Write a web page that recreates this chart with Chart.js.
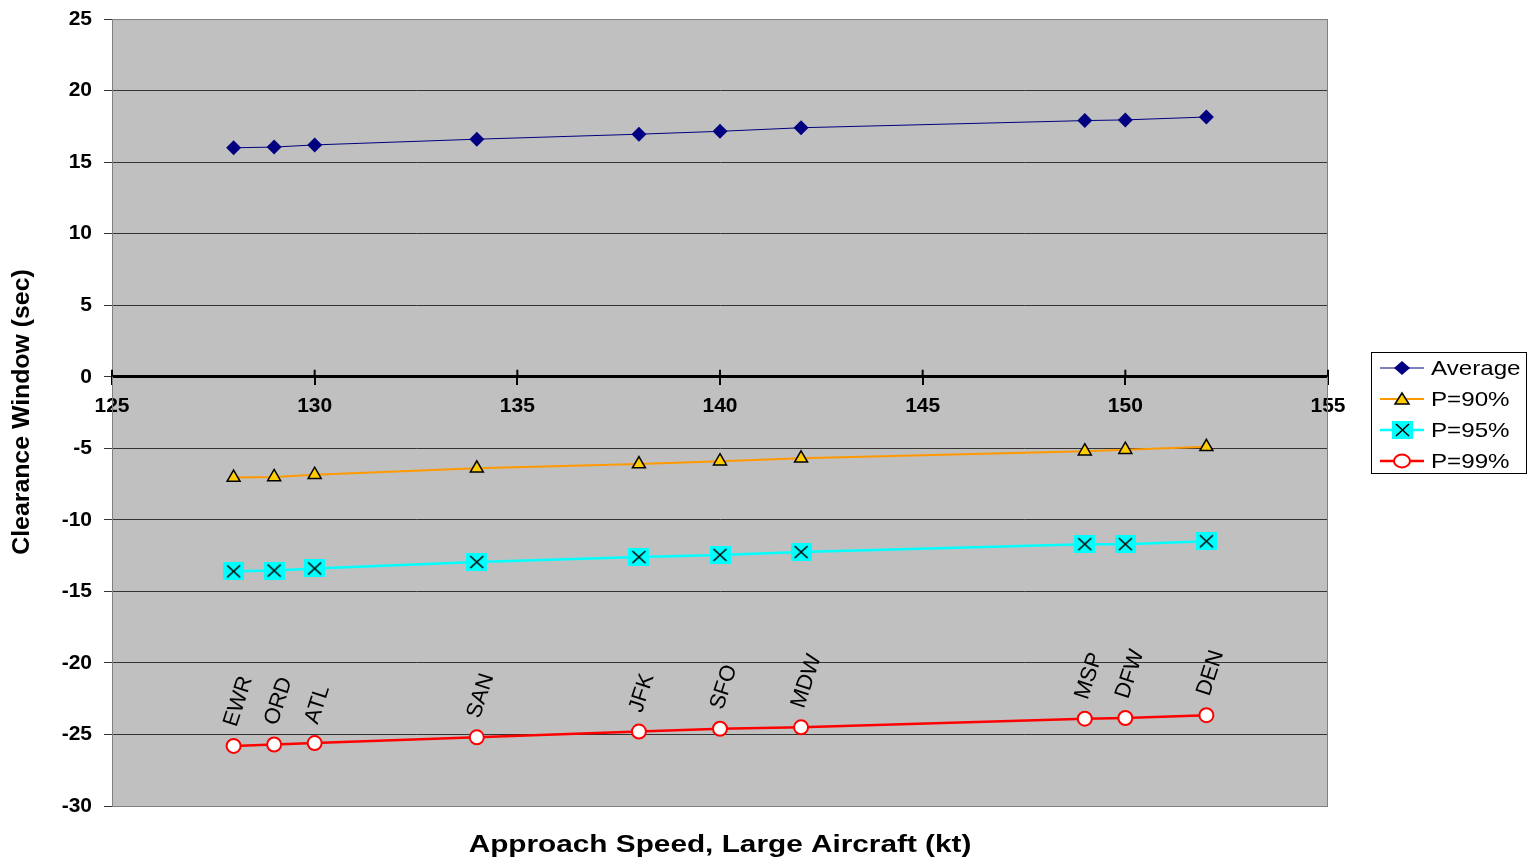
<!DOCTYPE html>
<html>
<head>
<meta charset="utf-8">
<script src="https://cdn.jsdelivr.net/npm/chart.js@4/dist/chart.umd.min.js"></script>
<style>
  body { margin: 0; background: #fff; }
  #wrap { width: 1528px; height: 861px; }
</style>
</head>
<body>
<div id="wrap"><canvas id="c" width="1528" height="861"></canvas></div>
<script>
// approach speeds (kt) and airports
const speeds = [128, 129, 130, 134, 138, 140, 142, 149, 150, 152]
const airports = ['EWR', 'ORD', 'ATL', 'SAN', 'JFK', 'SFO', 'MDW', 'MSP', 'DFW', 'DEN']
// clearance window (sec)
const average = [16.0, 16.05, 16.2, 16.6, 16.95, 17.15, 17.4, 17.9, 17.95, 18.15]
const p90 = [-7.05, -7.0, -6.85, -6.4, -6.1, -5.9, -5.7, -5.2, -5.1, -4.9]
const p95 = [-13.6, -13.55, -13.4, -12.95, -12.6, -12.45, -12.25, -11.7, -11.7, -11.5]
const p99 = [-25.8, -25.7, -25.6, -25.2, -24.8, -24.6, -24.5, -23.9, -23.85, -23.65]
const xTicks = [125, 130, 135, 140, 145, 150, 155]
const yTicks = [-30, -25, -20, -15, -10, -5, 0, 5, 10, 15, 20, 25]

const FONT = '"Liberation Sans", Arial, sans-serif'

function pts(arr) {
	return arr.map((v, i) => ({x: speeds[i], y: v}))
}

// cyan square with a black X, used for P=95%
function boxCross() {
	const cv = document.createElement('canvas')
	cv.width = 21
	cv.height = 18
	const g = cv.getContext('2d')
	g.fillStyle = '#00FFFF'
	g.fillRect(0, 0, 21, 18)
	g.strokeStyle = '#000'
	g.lineWidth = 1.6
	g.beginPath()
	g.moveTo(4, 3); g.lineTo(17, 15)
	g.moveTo(17, 3); g.lineTo(4, 15)
	g.stroke()
	return cv
}
const crossImg = boxCross()

function marker(ctx, kind, x, y) {
	ctx.save()
	if (kind === 'diamond') {
		ctx.fillStyle = '#000080'
		ctx.beginPath()
		ctx.moveTo(x, y - 7); ctx.lineTo(x + 8, y); ctx.lineTo(x, y + 7); ctx.lineTo(x - 8, y)
		ctx.closePath(); ctx.fill()
	} else if (kind === 'triangle') {
		ctx.fillStyle = '#FFCC00'
		ctx.strokeStyle = '#000'
		ctx.lineWidth = 1.5
		ctx.beginPath()
		ctx.moveTo(x, y - 6); ctx.lineTo(x + 7, y + 5); ctx.lineTo(x - 7, y + 5)
		ctx.closePath(); ctx.fill(); ctx.stroke()
	} else if (kind === 'cross') {
		ctx.drawImage(crossImg, x - 10, y - 9)
	} else {
		ctx.fillStyle = '#fff'
		ctx.strokeStyle = '#FF0000'
		ctx.lineWidth = 2
		ctx.beginPath()
		ctx.ellipse(x, y, 8, 6.5, 0, 0, Math.PI * 2)
		ctx.fill(); ctx.stroke()
	}
	ctx.restore()
}

const legendItems = [
	{label: 'Average', color: '#000080', width: 1, kind: 'diamond'},
	{label: 'P=90%', color: '#FF9900', width: 2, kind: 'triangle'},
	{label: 'P=95%', color: '#00FFFF', width: 2.5, kind: 'cross'},
	{label: 'P=99%', color: '#FF0000', width: 2.5, kind: 'circle'}
]

const decor = {
	id: 'decor',
	beforeDraw(chart) {
		const {ctx, chartArea: a} = chart
		ctx.save()
		ctx.fillStyle = '#C0C0C0'
		ctx.fillRect(a.left, a.top, a.right - a.left, a.bottom - a.top)
		ctx.restore()
	},
	beforeDatasetsDraw(chart) {
		const {ctx, chartArea: a} = chart
		ctx.save()
		ctx.strokeStyle = '#808080'
		ctx.lineWidth = 1
		ctx.strokeRect(a.left + 0.5, a.top + 0.5, a.right - a.left - 1, a.bottom - a.top)
		// tick marks above the x axis line too
		const xs = chart.scales.x, ys = chart.scales.y
		const y0 = ys.getPixelForValue(0)
		ctx.strokeStyle = '#000'
		ctx.lineWidth = 2
		xTicks.forEach(t => {
			const px = xs.getPixelForValue(t)
			ctx.beginPath(); ctx.moveTo(px, y0 - 7); ctx.lineTo(px, y0); ctx.stroke()
		})
		ctx.restore()
	},
	afterDraw(chart) {
		const {ctx, chartArea: a} = chart
		ctx.save()
		// airport labels
		const meta = chart.getDatasetMeta(3)
		ctx.fillStyle = '#000'
		ctx.font = '22px ' + FONT
		ctx.textAlign = 'left'
		ctx.textBaseline = 'middle'
		meta.data.forEach((p, i) => {
			ctx.save()
			ctx.translate(p.x - 3, p.y - 20)
			ctx.rotate(-72 * Math.PI / 180)
			ctx.fillText(airports[i], 0, 0)
			ctx.restore()
		})
		// axis titles
		ctx.save()
		ctx.font = 'bold 24px ' + FONT
		ctx.textAlign = 'center'
		ctx.translate((a.left + a.right) / 2, 845)
		ctx.scale(1.24, 1)
		ctx.fillText('Approach Speed, Large Aircraft (kt)', 0, 0)
		ctx.restore()
		ctx.save()
		ctx.translate(23, 412)
		ctx.rotate(-Math.PI / 2)
		ctx.scale(1.08, 1)
		ctx.font = 'bold 23px ' + FONT
		ctx.textAlign = 'center'
		ctx.fillText('Clearance Window (sec)', 0, 0)
		ctx.restore()
		// legend
		ctx.fillStyle = '#fff'
		ctx.fillRect(1371, 352, 156, 122)
		ctx.strokeStyle = '#000'
		ctx.lineWidth = 1
		ctx.strokeRect(1371.5, 352.5, 155, 121)
		ctx.textAlign = 'left'
		legendItems.forEach((it, i) => {
			const y = 368 + i * 31
			ctx.strokeStyle = it.color
			ctx.lineWidth = it.width
			ctx.beginPath(); ctx.moveTo(1380, y); ctx.lineTo(1424, y); ctx.stroke()
			marker(ctx, it.kind, 1402, y)
			ctx.save()
			ctx.fillStyle = '#000'
			ctx.font = '21px ' + FONT
			ctx.translate(1431, y + 1)
			ctx.scale(1.15, 1)
			ctx.fillText(it.label, 0, 0)
			ctx.restore()
		})
		ctx.restore()
	}
}

new Chart(document.getElementById('c'), {
	type: 'scatter',
	data: {
		datasets: [
			{
				label: 'Average', data: pts(average), showLine: true,
				borderColor: '#000080', borderWidth: 1,
				pointStyle: 'rectRot', pointRadius: 7.5, pointBackgroundColor: '#000080',
				pointBorderColor: '#000080', pointBorderWidth: 0
			},
			{
				label: 'P=90%', data: pts(p90), showLine: true,
				borderColor: '#FF9900', borderWidth: 2,
				pointStyle: 'triangle', pointRadius: 7.5, pointBackgroundColor: '#FFCC00',
				pointBorderColor: '#000', pointBorderWidth: 1.5
			},
			{
				label: 'P=95%', data: pts(p95), showLine: true,
				borderColor: '#00FFFF', borderWidth: 2.5,
				pointStyle: crossImg, pointRadius: 9
			},
			{
				label: 'P=99%', data: pts(p99), showLine: true,
				borderColor: '#FF0000', borderWidth: 2.5,
				pointStyle: 'circle', pointRadius: 7, pointBackgroundColor: '#fff',
				pointBorderColor: '#FF0000', pointBorderWidth: 2
			}
		]
	},
	options: {
		responsive: false,
		animation: false,
		layout: {padding: {left: 0, top: 19, right: 200, bottom: 55}},
		plugins: {legend: {display: false}, tooltip: {enabled: false}},
		scales: {
			x: {
				type: 'linear', min: 125, max: 155,
				position: {y: 0},
				afterBuildTicks: s => { s.ticks = xTicks.map(v => ({value: v})) },
				ticks: {color: '#000', font: {family: FONT, size: 21, weight: 'bold'}, padding: 10, maxRotation: 0},
				grid: {drawOnChartArea: false, drawTicks: true, tickLength: 7, color: '#000', lineWidth: 2},
				border: {color: '#000', width: 3}
			},
			y: {
				min: -30, max: 25,
				afterBuildTicks: s => { s.ticks = yTicks.map(v => ({value: v})) },
				afterFit: s => {
					s.width = 112
					s.paddingTop = 0
					s.paddingBottom = 0
				},
				ticks: {color: '#000', font: {family: FONT, size: 21, weight: 'bold'}, padding: 12},
				grid: {color: '#333', lineWidth: 1, tickLength: 8},
				border: {color: '#555', width: 1}
			}
		}
	},
	plugins: [decor]
})
</script>
</body>
</html>
